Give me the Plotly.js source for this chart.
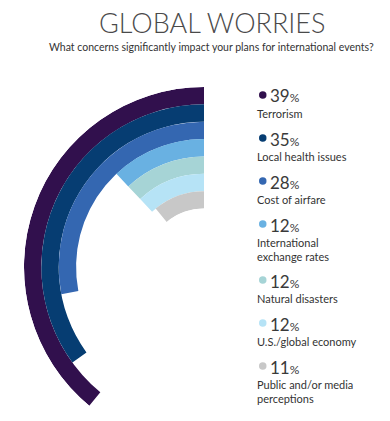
<!DOCTYPE html>
<html><head><meta charset="utf-8">
<script src="https://cdn.plot.ly/plotly-3.0.1.min.js"></script>
<style>html,body{margin:0;padding:0;background:#fff}#chart{width:390px;height:421px}</style>
</head><body><div id="chart"></div>
<script>
// ---- data ----
const categories = ["Terrorism", "Local health issues", "Cost of airfare", "International<br>exchange rates", "Natural disasters", "U.S./global economy", "Public and/or media<br>perceptions"];
const percentages = [39, 35, 28, 12, 12, 12, 11];
const colors = ["#31104d", "#063d72", "#3467b1", "#69b1e2", "#a6d4d6", "#b6e3f6", "#c8c8c8"];
const titleText = "GLOBAL WORRIES";
const subtitleText = "What concerns significantly impact your plans for international events?";

// ---- layout helpers ----
const W = 390, H = 421;
const px = x => x / W;
const py = y => 1 - y / H;
const n = percentages.length;

// polar geometry (pixels)
const cx = 204, cy = 267, R = 180;
const sector = [90, 231];
const bottom = cy + R * Math.sin((sector[1] - 180) * Math.PI / 180);

const trace = {
  type: "barpolar",
  theta: percentages.map(v => v * 3.6 / 2),
  width: percentages.map(v => v * 3.6),
  r: percentages.map(() => 1),
  base: percentages.map((v, i) => n - 1 - i),
  marker: { color: colors, line: { width: 0 } },
  hoverinfo: "skip",
  showlegend: false
};

const annotations = [
  { text: titleText, x: px(212), y: py(23), xref: "paper", yref: "paper", xanchor: "center", yanchor: "middle", showarrow: false,
    font: { family: "Lato", size: 27, color: "#4a4a4a", weight: 300 } },
  { text: subtitleText, x: px(212), y: py(47), xref: "paper", yref: "paper", xanchor: "center", yanchor: "middle", showarrow: false,
    font: { family: "Lato", size: 10.5, color: "#333333" } }
];
const shapes = [];

let yCur = 96;
for (let i = 0; i < n; i++) {
  const lines = categories[i].split("<br>").length;
  shapes.push({ type: "circle", xref: "paper", yref: "paper",
    x0: px(259), x1: px(266.5), y0: py(yCur + 3.75 - 1), y1: py(yCur - 3.75 - 1),
    fillcolor: colors[i], line: { width: 0 } });
  annotations.push({ text: percentages[i] + "<span style='font-size:12px'>%</span>", x: px(268), y: py(yCur), xref: "paper", yref: "paper",
    xanchor: "left", yanchor: "middle", showarrow: false, font: { family: "Lato", size: 17, color: "#3a3a3a" } });
  const labelY = yCur + 15;
  annotations.push({ text: categories[i], x: px(255), y: py(labelY - 6), xref: "paper", yref: "paper",
    xanchor: "left", yanchor: "top", align: "left", showarrow: false, font: { family: "Lato", size: 11, color: "#333333" } });
  yCur = labelY + 13 * (lines - 1) + 28;
}

const layout = {
  width: W, height: H,
  margin: { l: 0, r: 0, t: 0, b: 0 },
  paper_bgcolor: "#ffffff",
  polar: {
    domain: { x: [px(cx - R), px(cx)], y: [py(bottom), py(cy - R)] },
    sector: sector,
    hole: 0.325,
    bgcolor: "rgba(0,0,0,0)",
    radialaxis: { visible: false, range: [0, n] },
    angularaxis: { visible: false, rotation: 90, direction: "counterclockwise" }
  },
  annotations: annotations,
  shapes: shapes
};

Plotly.newPlot("chart", [trace], layout, { displayModeBar: false, staticPlot: true });
</script>
</body></html>
